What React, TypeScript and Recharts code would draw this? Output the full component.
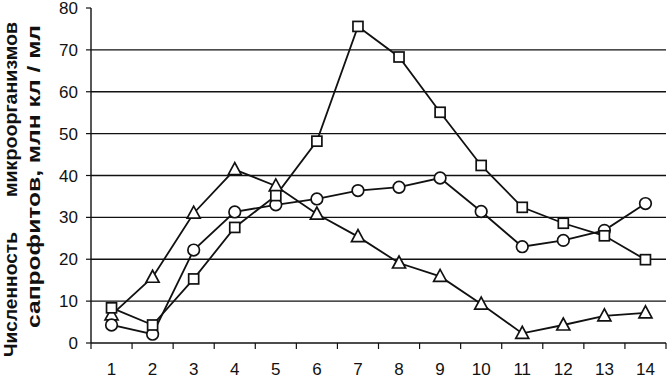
import React from "react";
import { LineChart, Line, XAxis, YAxis, ReferenceLine } from "recharts";

const days = [1, 2, 3, 4, 5, 6, 7, 8, 9, 10, 11, 12, 13, 14];
const squares = [8.4, 4.3, 15.3, 27.6, 35.2, 48.2, 75.6, 68.3, 55.1, 42.4, 32.4, 28.6, 25.6, 19.9];
const circles = [4.3, 2.1, 22.2, 31.3, 33.0, 34.4, 36.4, 37.2, 39.4, 31.4, 23.0, 24.5, 26.9, 33.3];
const triangles = [6.7, 15.7, 31.0, 41.4, 37.5, 30.8, 25.4, 19.1, 15.9, 9.3, 2.3, 4.3, 6.5, 7.2];
const yTicks = [0, 10, 20, 30, 40, 50, 60, 70, 80];
const gridValues = [10, 20, 30, 40, 50, 60, 70];
const yLabelLine1a = "Численность";
const yLabelLine1b = "микроорганизмов";
const yLabelLine2 = "сапрофитов, млн кл / мл";

const data = days.map((d, i) => ({
  day: d,
  sq: squares[i],
  ci: circles[i],
  tr: triangles[i],
}));

const INK = "#111";
const FONT = "'Liberation Sans', Arial, sans-serif";

const SquareDot = (p: any) => {
  const { cx, cy } = p;
  if (cx == null || cy == null) return <g />;
  return <rect x={cx - 5} y={cy - 5} width={10} height={10} fill="#fff" stroke={INK} strokeWidth={1.7} />;
};
const CircleDot = (p: any) => {
  const { cx, cy } = p;
  if (cx == null || cy == null) return <g />;
  return <circle cx={cx} cy={cy} r={5.8} fill="#fff" stroke={INK} strokeWidth={1.7} />;
};
const TriDot = (p: any) => {
  const { cx, cy } = p;
  if (cx == null || cy == null) return <g />;
  const pts = `${cx},${cy - 7} ${cx - 6.5},${cy + 5} ${cx + 6.5},${cy + 5}`;
  return <polygon points={pts} fill="#fff" stroke={INK} strokeWidth={1.7} />;
};

const XTick = (p: any) => {
  const { x, y, payload, width } = p;
  const half = (width || 575) / days.length / 2;
  return (
    <g>
      <line x1={x - half} y1={y} x2={x - half} y2={y + 6} stroke={INK} strokeWidth={1.2} />
      {payload.value === days[days.length - 1] ? (
        <line x1={x + half} y1={y} x2={x + half} y2={y + 6} stroke={INK} strokeWidth={1.2} />
      ) : null}
      <text x={x} y={y + 32} textAnchor="middle" fontSize={17} fontFamily={FONT} fill={INK}>
        {payload.value}
      </text>
    </g>
  );
};

const YTick = (p: any) => {
  const { x, y, payload } = p;
  return (
    <text x={x} y={y} dy="0.36em" textAnchor="end" fontSize={17} fontFamily={FONT} fill={INK}>
      {payload.value}
    </text>
  );
};

const YLabel = () => (
  <g fontFamily={FONT} fontWeight="bold" fontSize={19} fill={INK}>
    <text x={17} y={357} transform="rotate(-90, 17, 357)" textLength={125} lengthAdjust="spacingAndGlyphs">
      {yLabelLine1a}
    </text>
    <text x={17} y={197} transform="rotate(-90, 17, 197)" textLength={175} lengthAdjust="spacingAndGlyphs">
      {yLabelLine1b}
    </text>
    <text x={40} y={328} transform="rotate(-90, 40, 328)" textLength={303} lengthAdjust="spacingAndGlyphs">
      {yLabelLine2}
    </text>
  </g>
);

export default function App() {
  return (
    <div style={{ position: "absolute", left: 0, top: 0, width: 668, height: 380, background: "#fff" }}>
      <LineChart width={668} height={380} data={data} margin={{ top: 8, right: 2, bottom: 0, left: 0 }}>
        {gridValues.map((v) => (
          <ReferenceLine key={v} y={v} stroke={INK} strokeWidth={1.4} ifOverflow="extendDomain" />
        ))}
        <XAxis
          dataKey="day"
          type="number"
          domain={[0.5, 14.5]}
          ticks={days}
          interval={0}
          height={37}
          tickLine={false}
          tickSize={0}
          tickMargin={0}
          axisLine={{ stroke: INK, strokeWidth: 1.4 }}
          tick={<XTick />}
        />
        <YAxis
          domain={[0, 80]}
          ticks={yTicks}
          interval={0}
          width={91}
          tickSize={5}
          tickMargin={8}
          tickLine={{ stroke: INK, strokeWidth: 1.2 }}
          axisLine={{ stroke: INK, strokeWidth: 1.4 }}
          tick={<YTick />}
          label={{ content: () => <YLabel /> }}
        />
        <Line dataKey="tr" stroke={INK} strokeWidth={1.8} dot={<TriDot />} isAnimationActive={false} />
        <Line dataKey="ci" stroke={INK} strokeWidth={1.8} dot={<CircleDot />} isAnimationActive={false} />
        <Line dataKey="sq" stroke={INK} strokeWidth={1.8} dot={<SquareDot />} isAnimationActive={false} />
      </LineChart>
    </div>
  );
}
